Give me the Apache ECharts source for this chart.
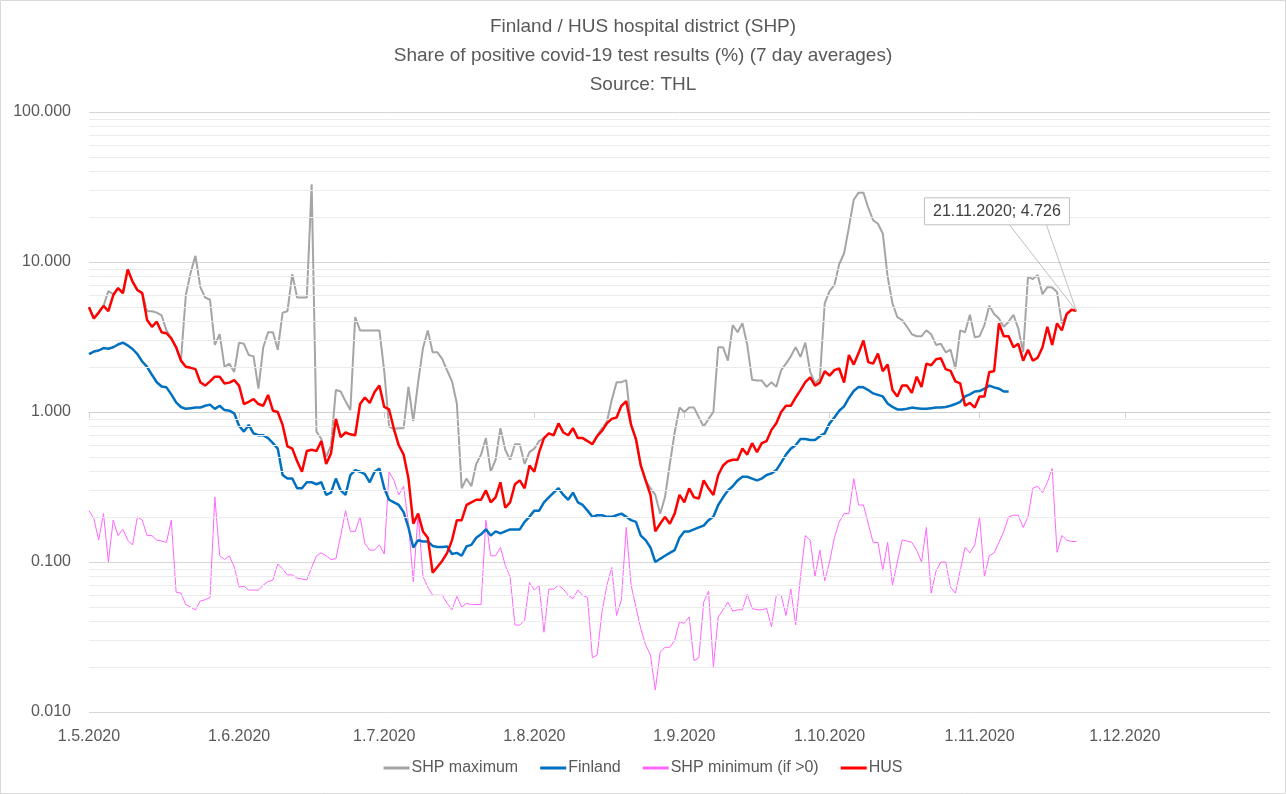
<!DOCTYPE html>
<html><head><meta charset="utf-8">
<script src="https://cdn.jsdelivr.net/npm/echarts@6/dist/echarts.min.js"></script>
<style>html,body{margin:0;padding:0;background:#fff}#c{width:1286px;height:794px}</style>
</head><body><div id="c"></div><script>
// Categories: every day 1.5.2020 ... 31.12.2020
const dayCount = 245;
const categories = [];
for (let i = 0; i < dayCount; i++) {
  const d = new Date(Date.UTC(2020, 4, 1 + i));
  categories.push(d.getUTCDate() + '.' + (d.getUTCMonth() + 1) + '.' + d.getUTCFullYear());
}
const minorLevels = [0.02,0.03,0.04,0.05,0.06,0.07,0.08,0.09,0.2,0.3,0.4,0.5,0.6,0.7,0.8,0.9,2,3,4,5,6,7,8,9,20,30,40,50,60,70,80,90];

const shpMax = [
5.0,4.2,4.6,5.1,6.4,6.1,6.7,6.2,8.9,7.4,
6.5,6.2,4.7,4.7,4.6,4.4,3.5,3.1,2.7,2.2,
6.0,8.5,11.0,6.8,5.8,5.6,2.8,3.3,2.0,2.1,
1.85,2.9,2.85,2.4,2.35,1.43,2.7,3.4,3.4,2.6,
4.6,4.7,8.3,5.8,5.8,5.8,33,0.74,0.66,0.5,
0.6,1.4,1.37,1.18,1.03,4.3,3.5,3.5,3.5,3.5,
3.5,1.87,0.8,0.77,0.78,0.78,1.47,0.87,1.58,2.67,
3.5,2.5,2.5,2.25,1.89,1.6,1.14,0.31,0.36,0.32,
0.45,0.52,0.67,0.40,0.48,0.78,0.56,0.48,0.61,0.61,
0.45,0.54,0.57,0.64,0.67,0.72,0.70,0.84,0.73,0.70,
0.78,0.67,0.67,0.64,0.61,0.70,0.78,0.86,1.2,1.58,
1.58,1.63,0.82,0.66,0.44,0.35,0.31,0.28,0.21,0.27,
0.45,0.73,1.07,1.0,1.07,1.07,0.92,0.8,0.9,1.0,
2.7,2.7,2.2,3.8,3.4,3.9,2.8,1.64,1.62,1.62,
1.47,1.58,1.47,1.9,2.1,2.35,2.7,2.33,2.9,1.85,
1.55,1.67,5.3,6.4,7.0,9.7,11.4,17,26,29,
29,23,19,18,15.5,8.0,5.3,4.3,4.1,3.7,
3.3,3.2,3.2,3.5,3.3,2.8,2.85,2.5,2.6,1.95,
3.5,3.4,4.45,3.15,3.2,3.8,5.1,4.5,4.2,3.7,
4.0,4.45,3.6,2.5,8.0,7.7,8.2,6.1,6.8,6.75,
6.3,3.9,4.5,4.8,4.726];

const finland = [
2.43,2.53,2.57,2.67,2.64,2.7,2.82,2.9,2.78,2.63,
2.43,2.17,2.0,1.77,1.58,1.48,1.46,1.31,1.16,1.08,
1.05,1.06,1.07,1.07,1.1,1.12,1.05,1.1,1.03,1.02,
0.98,0.81,0.74,0.82,0.72,0.70,0.70,0.67,0.62,0.57,
0.38,0.36,0.36,0.31,0.31,0.34,0.34,0.33,0.34,0.28,
0.29,0.36,0.3,0.28,0.38,0.41,0.40,0.385,0.34,0.40,
0.42,0.31,0.26,0.25,0.24,0.215,0.17,0.125,0.14,0.137,
0.137,0.128,0.126,0.126,0.127,0.113,0.115,0.11,0.127,0.13,
0.145,0.153,0.165,0.15,0.16,0.155,0.16,0.165,0.165,0.165,
0.185,0.2,0.22,0.22,0.25,0.27,0.29,0.31,0.28,0.26,
0.29,0.25,0.24,0.22,0.2,0.205,0.205,0.2,0.2,0.205,
0.21,0.2,0.19,0.185,0.15,0.14,0.125,0.1,0.105,0.11,
0.115,0.12,0.145,0.16,0.16,0.165,0.17,0.175,0.19,0.2,
0.24,0.27,0.3,0.32,0.35,0.37,0.37,0.36,0.35,0.36,
0.38,0.39,0.41,0.46,0.52,0.57,0.6,0.66,0.66,0.65,
0.65,0.69,0.72,0.84,0.92,1.02,1.09,1.24,1.38,1.47,
1.46,1.4,1.33,1.3,1.27,1.14,1.08,1.04,1.04,1.05,
1.07,1.06,1.05,1.05,1.06,1.07,1.07,1.08,1.1,1.13,
1.17,1.27,1.31,1.37,1.38,1.43,1.5,1.46,1.43,1.37,
1.37];

const shpMin = [
0.22,0.195,0.14,0.21,0.10,0.19,0.15,0.165,0.14,0.13,
0.2,0.19,0.15,0.15,0.14,0.138,0.135,0.19,0.063,0.062,
0.052,0.05,0.048,0.055,0.056,0.058,0.27,0.11,0.104,0.11,
0.093,0.068,0.069,0.065,0.065,0.065,0.07,0.074,0.076,0.097,
0.09,0.082,0.082,0.078,0.077,0.076,0.092,0.11,0.115,0.11,
0.104,0.105,0.15,0.22,0.16,0.16,0.2,0.133,0.12,0.12,
0.13,0.113,0.40,0.35,0.28,0.32,0.18,0.074,0.21,0.08,
0.068,0.06,0.06,0.06,0.053,0.048,0.059,0.05,0.053,0.052,
0.052,0.052,0.19,0.11,0.11,0.125,0.095,0.08,0.038,0.038,
0.041,0.073,0.065,0.07,0.034,0.066,0.066,0.07,0.066,0.06,
0.057,0.065,0.06,0.058,0.023,0.024,0.047,0.07,0.092,0.044,
0.056,0.17,0.07,0.05,0.036,0.028,0.024,0.014,0.025,0.027,
0.027,0.03,0.04,0.039,0.043,0.022,0.023,0.054,0.064,0.02,
0.043,0.048,0.054,0.047,0.048,0.048,0.061,0.049,0.048,0.048,
0.049,0.037,0.06,0.06,0.044,0.066,0.038,0.08,0.15,0.14,
0.08,0.12,0.075,0.1,0.145,0.185,0.21,0.21,0.36,0.24,
0.24,0.18,0.135,0.135,0.088,0.135,0.07,0.1,0.14,0.138,
0.135,0.12,0.1,0.17,0.062,0.087,0.1,0.1,0.068,0.062,
0.088,0.125,0.115,0.13,0.2,0.08,0.11,0.115,0.135,0.16,
0.2,0.205,0.205,0.17,0.2,0.31,0.32,0.29,0.34,0.42,
0.116,0.15,0.14,0.137,0.137];

const hus = [
5.0,4.2,4.6,5.1,4.7,6.0,6.7,6.2,8.9,7.4,
6.5,6.2,4.1,3.7,4.0,3.4,3.35,3.1,2.7,2.2,
2.0,1.97,1.93,1.58,1.5,1.6,1.72,1.72,1.55,1.57,
1.63,1.5,1.13,1.17,1.22,1.13,1.1,1.3,1.02,1.0,
0.82,0.59,0.57,0.47,0.40,0.55,0.56,0.55,0.64,0.45,
0.53,0.9,0.68,0.73,0.71,0.7,1.13,1.25,1.15,1.36,
1.5,1.08,1.04,0.77,0.6,0.52,0.36,0.18,0.21,0.16,
0.145,0.085,0.093,0.102,0.115,0.14,0.19,0.19,0.24,0.25,
0.26,0.26,0.3,0.25,0.27,0.34,0.23,0.25,0.33,0.35,
0.31,0.44,0.40,0.54,0.67,0.72,0.70,0.84,0.73,0.70,
0.78,0.67,0.67,0.64,0.61,0.69,0.75,0.84,0.9,0.92,
1.1,1.18,0.82,0.66,0.44,0.35,0.28,0.16,0.18,0.2,
0.18,0.21,0.28,0.25,0.31,0.27,0.265,0.35,0.31,0.28,
0.38,0.44,0.47,0.48,0.48,0.57,0.52,0.62,0.54,0.62,
0.64,0.76,0.84,1.0,1.1,1.1,1.25,1.4,1.58,1.7,
1.5,1.57,1.87,1.75,1.9,1.95,1.57,2.4,2.07,2.47,
3.0,2.15,2.1,2.45,1.87,2.07,1.4,1.27,1.5,1.5,
1.34,1.72,1.47,2.1,2.05,2.25,2.28,1.93,1.88,1.6,
1.55,1.1,1.15,1.07,1.27,1.27,1.85,1.87,3.9,3.2,
3.2,2.7,2.85,2.2,2.6,2.2,2.3,2.7,3.7,2.8,
3.9,3.5,4.5,4.8,4.726];

const FONT = 'Liberation Sans';
const TXT = '#595959';
const monthStart = (idx, val) => String(val).split('.')[0] === '1';

const chart = echarts.init(document.getElementById('c'), null, {renderer: 'canvas'});
chart.setOption({
  animation: false,
  backgroundColor: '#fff',
  textStyle: {fontFamily: FONT},
  title: {
    text: 'Finland / HUS hospital district (SHP)\nShare of positive covid-19 test results (%) (7 day averages)\nSource: THL',
    left: 'center', top: 7,
    textStyle: {fontFamily: FONT, fontSize: 19, fontWeight: 'normal', color: TXT, lineHeight: 29}
  },
  legend: {
    bottom: 13, left: 'center',
    data: [
      {name: 'SHP maximum', icon: 'rect'},
      {name: 'Finland', icon: 'rect'},
      {name: 'SHP minimum (if >0)', icon: 'rect'},
      {name: 'HUS', icon: 'rect'}
    ],
    itemWidth: 26, itemHeight: 3, itemGap: 22,
    textStyle: {fontFamily: FONT, fontSize: 16, color: TXT, padding: [0, 0, 0, -3]}
  },
  grid: {left: 89, right: 16, top: 112, bottom: 82, containLabel: false},
  xAxis: [{
    type: 'category', data: categories, boundaryGap: false,
    axisLine: {show: false}, axisTick: {show: false},
    axisLabel: {interval: monthStart, color: TXT, fontFamily: FONT, fontSize: 16, margin: 17},
    splitLine: {show: false}
  }, {
    type: 'category', data: categories, boundaryGap: false, position: 'bottom', offset: -300,
    axisLine: {show: true, lineStyle: {color: '#d0d0d0', width: 1}},
    axisTick: {show: true, interval: monthStart, length: 6, lineStyle: {color: '#d0d0d0'}},
    axisLabel: {show: false}, splitLine: {show: false}
  }],
  yAxis: {
    type: 'log', logBase: 10, min: 0.01, max: 100,
    axisLine: {show: false}, axisTick: {show: false},
    axisLabel: {color: TXT, fontFamily: FONT, fontSize: 16, margin: 18, formatter: v => Number(v).toFixed(3)},
    splitLine: {show: true, lineStyle: {color: '#d6d6d6', width: 1}}
  },
  series: [
    {name: 'minorGrid', type: 'line', data: [], silent: true, z: 1,
     markLine: {silent: true, symbol: ['none', 'none'], label: {show: false},
       lineStyle: {color: '#ebebeb', width: 1, type: 'solid'},
       emphasis: {disabled: true},
       data: minorLevels.map(v => ({yAxis: v}))}},
    {name: 'SHP maximum', type: 'line', data: shpMax, symbol: 'none', z: 3,
     lineStyle: {color: '#a5a5a5', width: 2}, itemStyle: {color: '#a5a5a5'}},
    {name: 'Finland', type: 'line', data: finland, symbol: 'none', z: 4,
     lineStyle: {color: '#0070c0', width: 2.5}, itemStyle: {color: '#0070c0'}},
    {name: 'SHP minimum (if >0)', type: 'line', data: shpMin, symbol: 'none', z: 3,
     lineStyle: {color: '#ff66ff', width: 1}, itemStyle: {color: '#ff66ff'}},
    {name: 'HUS', type: 'line', data: hus, symbol: 'none', z: 5,
     lineStyle: {color: '#ff0000', width: 2.5}, itemStyle: {color: '#ff0000'}}
  ]
});

const last = hus.length - 1;
const p = chart.convertToPixel({xAxisIndex: 0, yAxisIndex: 0}, [categories[last], hus[last]]);
const dd = categories[last].split('.');
const fullDate = dd[0] + '.' + dd[1] + '.' + dd[2];
chart.setOption({
  graphic: [
    {type: 'polyline', z: 100, shape: {points: [[p[0] - 67, p[1] - 86], [p[0], p[1]], [p[0] - 30, p[1] - 86]]},
     style: {stroke: '#bfbfbf', fill: null, lineWidth: 1}},
    {type: 'rect', z: 101, shape: {x: p[0] - 152, y: p[1] - 113, width: 145, height: 27},
     style: {fill: '#fff', stroke: '#bfbfbf', lineWidth: 1}},
    {type: 'text', z: 102, x: p[0] - 79.5, y: p[1] - 99.5,
     style: {text: fullDate + '; ' + hus[last].toFixed(3), fill: '#404040', font: '16px ' + FONT, align: 'center', verticalAlign: 'middle'}},
    {type: 'rect', z: 0, shape: {x: 0.5, y: 0.5, width: 1285, height: 793},
     style: {fill: null, stroke: '#d9d9d9', lineWidth: 1}}
  ]
});
</script></body></html>
